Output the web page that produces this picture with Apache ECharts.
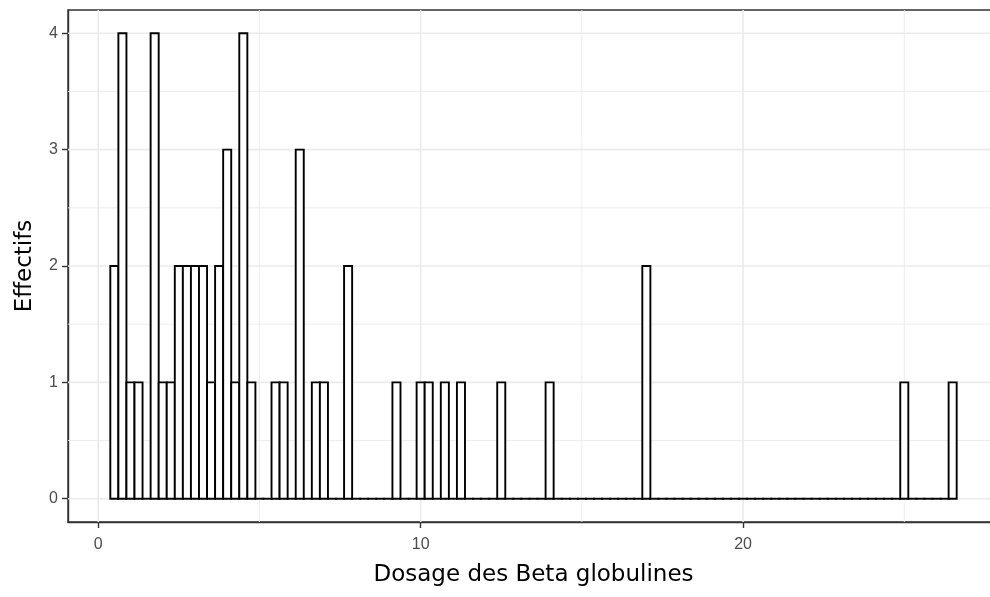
<!DOCTYPE html>
<html>
<head>
<meta charset="utf-8">
<script src="https://cdn.jsdelivr.net/npm/echarts@6/dist/echarts.min.js"></script>
<style>html,body{margin:0;padding:0;background:#fff;overflow:hidden;}#c{width:990px;height:597px;}</style>
</head>
<body>
<div id="c"></div>
<script>
// Histogram definition (binwidth 0.25, first bin centred at 0.5)
const binWidth = 0.25;
const firstBinCenter = 0.5;
// Counts per bin (105 bins, 0.375 .. 26.625)
const counts = [
  2,4,1,1,0,4,1,1,2,2, 2,2,1,2,3,1,4,1,0,0,
  1,1,0,3,0,1,1,0,0,2, 0,0,0,0,0,1,0,0,1,1,
  0,1,0,1,0,0,0,0,1,0, 0,0,0,0,1,0,0,0,0,0,
  0,0,0,0,0,0,2,0,0,0, 0,0,0,0,0,0,0,0,0,0,
  0,0,0,0,0,0,0,0,0,0, 0,0,0,0,0,0,0,0,1,0,
  0,0,0,0,1
];
const xTicks = [0, 10, 20];
const xMinorGrid = [5, 15, 25];
const yTicks = [0, 1, 2, 3, 4];
const yMinorGrid = [0.5, 1.5, 2.5, 3.5];
const xLabel = 'Dosage des Beta globulines';
const yLabel = 'Effectifs';

const histData = counts.map((c, i) => [firstBinCenter + i * binWidth, c]);
const gridData = []
  .concat(xTicks.map(v => ['x', v, 1]))
  .concat(xMinorGrid.map(v => ['x', v, 0]))
  .concat(yTicks.map(v => ['y', v, 1]))
  .concat(yMinorGrid.map(v => ['y', v, 0]));

const chart = echarts.init(document.getElementById('c'), null, {renderer: 'canvas'});
const FONT = 'Arial, "Liberation Sans", sans-serif';
const NAMEFONT = '"DejaVu Sans", sans-serif';
chart.setOption({
  animation: false,
  backgroundColor: '#ffffff',
  grid: {left: 68, top: 10, width: 931, height: 512, outerBoundsMode: 'none', containLabel: false,
    show: true, borderColor: '#333333', borderWidth: 1.4, backgroundColor: 'transparent'},
  xAxis: {
    type: 'value', min: -0.9375, max: 27.9375,
    name: xLabel, nameLocation: 'middle', nameGap: 42,
    nameTextStyle: {color: '#000', fontSize: 23, fontFamily: NAMEFONT},
    axisLine: {show: true, onZero: false, lineStyle: {color: '#333333', width: 1.4}},
    axisTick: {show: true, customValues: xTicks, length: 6, lineStyle: {color: '#333333', width: 1.4}},
    axisLabel: {customValues: xTicks, color: '#4D4D4D', fontSize: 16, fontFamily: FONT, margin: 15},
    splitLine: {show: false}
  },
  yAxis: {
    type: 'value', min: -0.2, max: 4.2,
    name: yLabel, nameLocation: 'middle', nameGap: 31, nameRotate: 90,
    nameTextStyle: {color: '#000', fontSize: 23, fontFamily: NAMEFONT},
    axisLine: {show: true, onZero: false, lineStyle: {color: '#333333', width: 1.4}},
    axisTick: {show: true, customValues: yTicks, length: 6, lineStyle: {color: '#333333', width: 1.4}},
    axisLabel: {customValues: yTicks, color: '#4D4D4D', fontSize: 16, fontFamily: FONT, margin: 10},
    splitLine: {show: false}
  },
  series: [
    {
      type: 'custom', z: 1, silent: true,
      data: gridData,
      encode: {x: 1},
      renderItem: function (params, api) {
        const cs = params.coordSys;
        const dim = gridData[params.dataIndex];
        const v = dim[1], major = dim[2] === 1;
        let shape;
        if (dim[0] === 'x') {
          const px = api.coord([v, 0])[0];
          shape = {x1: px, y1: cs.y, x2: px, y2: cs.y + cs.height};
        } else {
          const py = api.coord([0, v])[1];
          shape = {x1: cs.x, y1: py, x2: cs.x + cs.width, y2: py};
        }
        return {type: 'line', shape: shape, style: {stroke: '#EBEBEB', lineWidth: major ? 1.6 : 0.9}};
      }
    },
    {
      type: 'custom', z: 2, silent: true,
      data: histData,
      encode: {x: 0, y: 1},
      renderItem: function (params, api) {
        const c = api.value(0), n = api.value(1);
        const p0 = api.coord([c - binWidth / 2, n]);
        const p1 = api.coord([c + binWidth / 2, 0]);
        if (n === 0) {
          return {type: 'line', shape: {x1: p0[0], y1: p1[1], x2: p1[0], y2: p1[1]},
            style: {stroke: '#000', lineWidth: 1.9, lineCap: 'square'}};
        }
        return {type: 'rect', shape: {x: p0[0], y: p0[1], width: p1[0] - p0[0], height: p1[1] - p0[1]},
          style: {fill: '#ffffff', stroke: '#000000', lineWidth: 1.9}};
      }
    }
  ]
});
</script>
</body>
</html>
